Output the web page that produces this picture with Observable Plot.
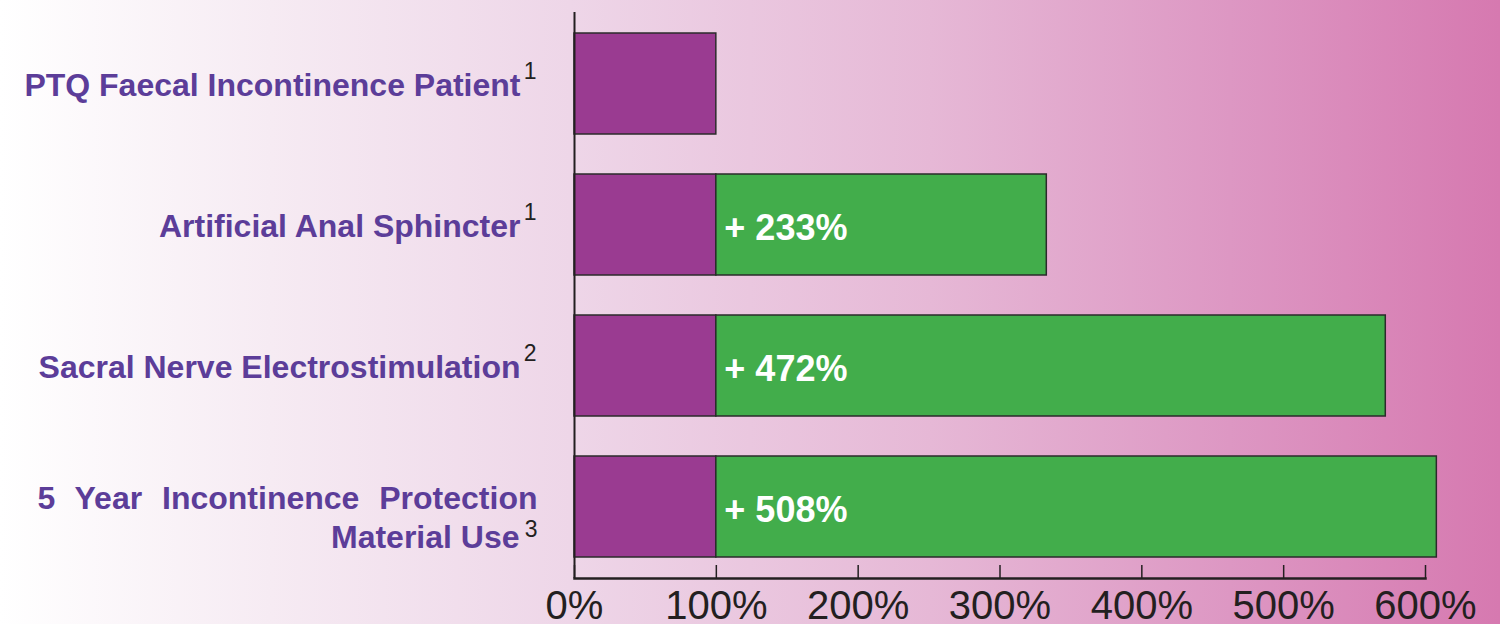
<!DOCTYPE html>
<html><head><meta charset="utf-8">
<script src="https://cdn.jsdelivr.net/npm/d3@7"></script>
<script src="https://cdn.jsdelivr.net/npm/@observablehq/plot@0.6"></script>
<style>
html,body{margin:0;padding:0;width:1500px;height:624px;overflow:hidden;background:#fff;}
#chart svg{display:block;}
</style></head><body><div id="chart"></div>
<script>
const categories = [
  "PTQ Faecal Incontinence Patient",
  "Artificial Anal Sphincter",
  "Sacral Nerve Electrostimulation",
  "5 Year Incontinence Protection Material Use"
];
const labelFirstLines = ["", "", "", "5 Year Incontinence Protection"];
const labelLastLines = ["PTQ Faecal Incontinence Patient", "Artificial Anal Sphincter", "Sacral Nerve Electrostimulation", "Material Use"];
const references = ["1", "1", "2", "3"];
const baseValues = [100, 100, 100, 100];
const increases = [0, 233, 472, 508];
const xTicks = [0, 100, 200, 300, 400, 500, 600];

const parts = ["Baseline", "Increase"];
const partColors = ["#9a3b91", "#42ad4b"];

const bars = categories.flatMap((c, i) => [
  {category: c, part: "Baseline", x1: 0, x2: baseValues[i]},
  {category: c, part: "Increase", x1: baseValues[i], x2: baseValues[i] + increases[i]}
]).filter(d => d.x2 > d.x1);

const rows = categories.map((c, i) => ({
  category: c, first: labelFirstLines[i], last: labelLastLines[i], ref: references[i],
  base: baseValues[i], inc: increases[i]
}));
const single = rows.filter(d => d.first === "");
const multi = rows.filter(d => d.first !== "");

const ink = "#231f20";
const labelColor = "#5c3d99";
const H = 624, MT = 12, MB = 46;

const plot = Plot.plot({
  width: 1500, height: H,
  marginTop: MT, marginBottom: MB, marginLeft: 574, marginRight: 75,
  style: {
    background: "linear-gradient(to right, #ffffff 0%, #f6ebf3 18%, #eed6e8 38%, #e6b8d6 62%, #dd97c3 82%, #d679b0 100%)",
    fontFamily: "'Liberation Sans', Arial, Helvetica, sans-serif",
    overflow: "visible"
  },
  x: {domain: [0, 600], axis: null},
  y: {domain: categories, paddingInner: 0.287, paddingOuter: 0.1435, axis: null},
  color: {domain: parts, range: partColors},
  marks: [
    Plot.barX(bars, {y: "category", x1: "x1", x2: "x2", fill: "part", stroke: "#2b2b2b", strokeWidth: 1.5}),
    Plot.ruleX([0], {stroke: ink, strokeWidth: 2}),
    Plot.ruleX(xTicks, {x: d => d, insetTop: (H - MT - MB) - 13, stroke: ink, strokeWidth: 1.5}),
    Plot.frame({anchor: "bottom", stroke: ink, strokeWidth: 2.5}),
    Plot.axisX(xTicks, {tickSize: 0, tickPadding: 12, tickFormat: d => d + "%", fontSize: 40, fill: ink}),
    Plot.text(rows.filter(d => d.inc > 0), {
      x: "base", y: "category", text: d => "+ " + d.inc + "%",
      textAnchor: "start", dx: 8, dy: 3, fill: "white", fontSize: 36, fontWeight: "bold"
    }),
    Plot.text(single, {
      y: "category", frameAnchor: "left", text: "last", textAnchor: "end", dx: -54, dy: 2,
      fill: labelColor, fontSize: 32, fontWeight: "bold"
    }),
    Plot.text(multi, {
      y: "category", frameAnchor: "left", text: "first", textAnchor: "end", dx: -37, dy: -8,
      fill: labelColor, fontSize: 32, fontWeight: "bold", wordSpacing: "11px"
    }),
    Plot.text(multi, {
      y: "category", frameAnchor: "left", text: "last", textAnchor: "end", dx: -55, dy: 31,
      fill: labelColor, fontSize: 32, fontWeight: "bold"
    }),
    Plot.text(single, {
      y: "category", frameAnchor: "left", text: "ref", textAnchor: "end", dx: -38, dy: -12,
      fill: ink, fontSize: 23
    }),
    Plot.text(multi, {
      y: "category", frameAnchor: "left", text: "ref", textAnchor: "end", dx: -37, dy: 23,
      fill: ink, fontSize: 23
    })
  ]
});
document.getElementById("chart").appendChild(plot);
// apply word spacing for the justified first line
plot.querySelectorAll("text").forEach(t => {
  if (t.textContent === labelFirstLines[3]) t.style.wordSpacing = "11px";
});
</script></body></html>
